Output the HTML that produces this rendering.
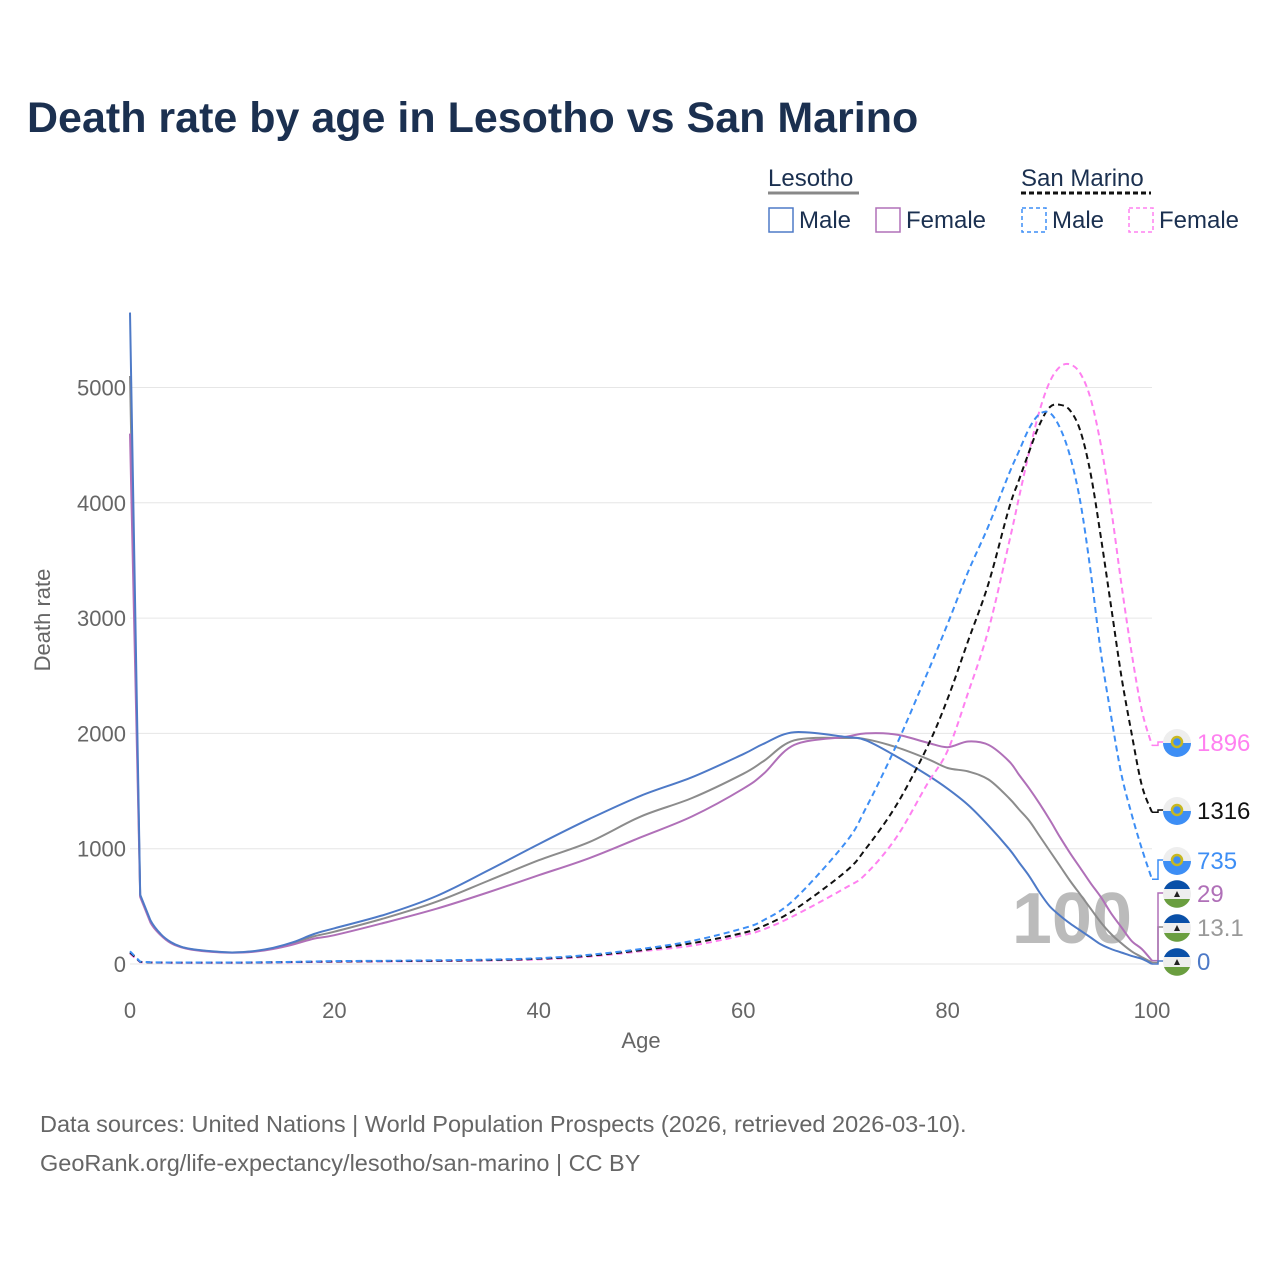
<!DOCTYPE html>
<html><head><meta charset="utf-8"><style>
body{margin:0;background:#fff;font-family:"Liberation Sans",sans-serif}
svg text{font-family:"Liberation Sans",sans-serif}
</style></head><body>
<svg id="c" width="1280" height="1280" xmlns="http://www.w3.org/2000/svg">
<text x="27" y="132" font-size="43" font-weight="bold" fill="#1b3050">Death rate by age in Lesotho vs San Marino</text>
<g font-size="24" fill="#1b3050">
<text x="768" y="186" fill="#1b3050">Lesotho</text>
<line x1="768" y1="193" x2="859" y2="193" stroke="#888" stroke-width="3"/>
<text x="1021" y="186" fill="#1b3050">San Marino</text>
<line x1="1021" y1="193" x2="1151" y2="193" stroke="#111" stroke-width="3" stroke-dasharray="5,3"/>
<g><rect x="769" y="208" width="24" height="24" fill="none" stroke="#4e7ac7" stroke-width="1.5"/><text x="799" y="228">Male</text></g>
<g><rect x="876" y="208" width="24" height="24" fill="none" stroke="#b070b8" stroke-width="1.5"/><text x="906" y="228">Female</text></g>
<g><rect x="1022" y="208" width="24" height="24" fill="none" stroke="#3d8ef5" stroke-width="1.5" stroke-dasharray="4,3"/><text x="1052" y="228">Male</text></g>
<g><rect x="1129" y="208" width="24" height="24" fill="none" stroke="#ff80f0" stroke-width="1.5" stroke-dasharray="4,3"/><text x="1159" y="228">Female</text></g>
</g>
<g id="grid"></g>
<g id="yt" font-size="22" fill="#666" text-anchor="end"></g>
<g id="xt" font-size="22" fill="#666" text-anchor="middle"></g>
<text x="641" y="1048" font-size="22" fill="#666" text-anchor="middle">Age</text>
<text transform="translate(50,620) rotate(-90)" font-size="22" fill="#666" text-anchor="middle">Death rate</text>
<text x="1132" y="943" font-size="72" font-weight="bold" fill="#bbb" text-anchor="end">100</text>
<g id="lines"></g>
<g id="ends"></g>
<text x="40" y="1132" font-size="23.5" fill="#666">Data sources: United Nations | World Population Prospects (2026, retrieved 2026-03-10).</text>
<text x="40" y="1171" font-size="23.5" fill="#666">GeoRank.org/life-expectancy/lesotho/san-marino | CC BY</text>
</svg>
<script>
const ages=[0,1,2,3,4,5,6,8,10,12,14,16,18,20,25,30,35,40,45,50,55,60,62,65,70,72,75,78,80,82,84,86,87,88,89,90,91,92,93,94,95,96,97,98,99,100];
const lesMale=[5650,600,380,260,190,150,130,110,100,110,140,190,260,310,430,590,810,1040,1260,1460,1620,1820,1910,2010,1970,1940,1800,1640,1520,1380,1200,1000,880,760,620,500,420,350,290,230,170,130,100,70,45,0];
const lesTotal=[5100,590,370,255,185,148,128,108,100,108,135,180,240,280,400,540,720,900,1060,1280,1440,1650,1760,1940,1960,1950,1880,1780,1700,1670,1600,1440,1340,1240,1110,980,850,720,600,480,360,260,180,110,60,13];
const lesFemale=[4600,580,360,250,180,145,125,105,98,105,130,170,220,250,360,480,620,770,920,1100,1280,1520,1650,1900,1970,2000,1990,1920,1880,1930,1900,1760,1640,1520,1390,1250,1100,960,830,700,580,440,320,200,130,29];
const smMale=[110,20,15,14,13,13,13,13,13,14,16,18,22,25,28,32,38,50,80,130,200,310,380,560,1050,1350,1900,2520,2950,3400,3800,4250,4450,4650,4770,4780,4650,4400,4000,3400,2700,2150,1650,1300,1000,735];
const smTotal=[100,18,14,13,12,12,12,12,12,13,15,17,20,22,25,28,34,45,72,120,180,270,330,470,800,1000,1380,1880,2300,2800,3300,3950,4200,4450,4680,4830,4850,4800,4620,4250,3700,3100,2500,2000,1550,1316];
const smFemale=[90,16,13,12,11,11,11,11,11,12,13,15,17,19,22,25,30,40,65,110,160,250,300,420,660,780,1100,1560,1850,2350,2900,3650,4050,4450,4800,5050,5180,5200,5120,4900,4500,3950,3300,2700,2200,1896];
const yTicks=[0,1000,2000,3000,4000,5000];
const xTicks=[0,20,40,60,80,100];
const X=a=>130+a*10.22, Y=v=>964-v*0.1153;
const NS="http://www.w3.org/2000/svg";
function mk(t,at,p){const e=document.createElementNS(NS,t);for(const k in at)e.setAttribute(k,at[k]);p.appendChild(e);return e;}
function smooth(pts){let d='M'+pts[0][0]+','+pts[0][1];for(let i=0;i<pts.length-1;i++){const p0=pts[Math.max(0,i-1)],p1=pts[i],p2=pts[i+1],p3=pts[Math.min(pts.length-1,i+2)];
const t=(i<2)?0:1/6;
const c1=[p1[0]+(p2[0]-p0[0])*t,p1[1]+(p2[1]-p0[1])*t],c2=[p2[0]-(p3[0]-p1[0])*t,p2[1]-(p3[1]-p1[1])*t];
d+=` C${c1[0].toFixed(1)},${c1[1].toFixed(1)} ${c2[0].toFixed(1)},${c2[1].toFixed(1)} ${p2[0].toFixed(1)},${p2[1].toFixed(1)}`;}return d;}
const g=document.getElementById('grid'),yt=document.getElementById('yt'),xt=document.getElementById('xt');
yTicks.forEach(v=>{const l=mk('line',{x1:130,x2:1152,y1:Y(v),y2:Y(v),stroke:'#e6e6e6','stroke-width':1},g);


const t=mk('text',{x:126,y:Y(v)+8},yt);t.textContent=v;

});
xTicks.forEach(a=>{const t=mk('text',{x:X(a),y:1018},xt);t.textContent=a;

});
const series=[
{n:'lesotho-total',d:lesTotal,c:'#8c8c8c',dash:null,lab:'13.1',ly:927,fl:'ls'},
{n:'lesotho-female',d:lesFemale,c:'#b070b8',dash:null,lab:'29',ly:893,fl:'ls'},
{n:'lesotho-male',d:lesMale,c:'#4e7ac7',dash:null,lab:'0',ly:961,fl:'ls'},
{n:'sanmarino-female',d:smFemale,c:'#ff80f0',dash:'6,4',lab:'1896',ly:742,fl:'sm'},
{n:'sanmarino-total',d:smTotal,c:'#111',dash:'6,4',lab:'1316',ly:810,fl:'sm'},
{n:'sanmarino-male',d:smMale,c:'#3d8ef5',dash:'6,4',lab:'735',ly:860,fl:'sm'}];
const L=document.getElementById('lines'),E=document.getElementById('ends');
series.forEach(s=>{
const p=mk('path',{d:smooth(ages.map((a,i)=>[X(a),Y(s.d[i])])),fill:'none',stroke:s.c,'stroke-width':2},L);
if(s.dash)p.setAttribute('stroke-dasharray',s.dash);


const yEnd=Y(s.d[s.d.length-1]);
const c=mk('polyline',{points:`${X(100)},${yEnd} 1158,${yEnd} 1158,${s.ly} 1164,${s.ly}`,fill:'none',stroke:s.c,'stroke-width':1.5},E);


const fg=mk('g',{},E);


const cx=1177,cy=s.ly+1;
if(s.fl==='sm'){mk('circle',{cx,cy,r:14,fill:'#eee'},fg);mk('path',{d:`M${cx-14},${cy} A14,14 0 0 0 ${cx+14},${cy} Z`,fill:'#3d8ef5'},fg);mk('circle',{cx,cy:cy-1,r:5,fill:'#3d8ef5',stroke:'#c8b820','stroke-width':2.5},fg);}
else{mk('circle',{cx,cy,r:14,fill:'#eee'},fg);mk('path',{d:`M${cx-13},${cy-5} A14,14 0 0 1 ${cx+13},${cy-5} Z`,fill:'#0a50a8'},fg);mk('path',{d:`M${cx-13},${cy+5} A14,14 0 0 0 ${cx+13},${cy+5} Z`,fill:'#6a9e3f'},fg);mk('path',{d:`M${cx-3},${cy+3} L${cx+3},${cy+3} L${cx},${cy-3} Z`,fill:'#222'},fg);}
const t=mk('text',{x:1197,y:s.ly+9,'font-size':24,fill:s.c==='#8c8c8c'?'#999':s.c},E);t.textContent=s.lab;


});
</script>
</body></html>
